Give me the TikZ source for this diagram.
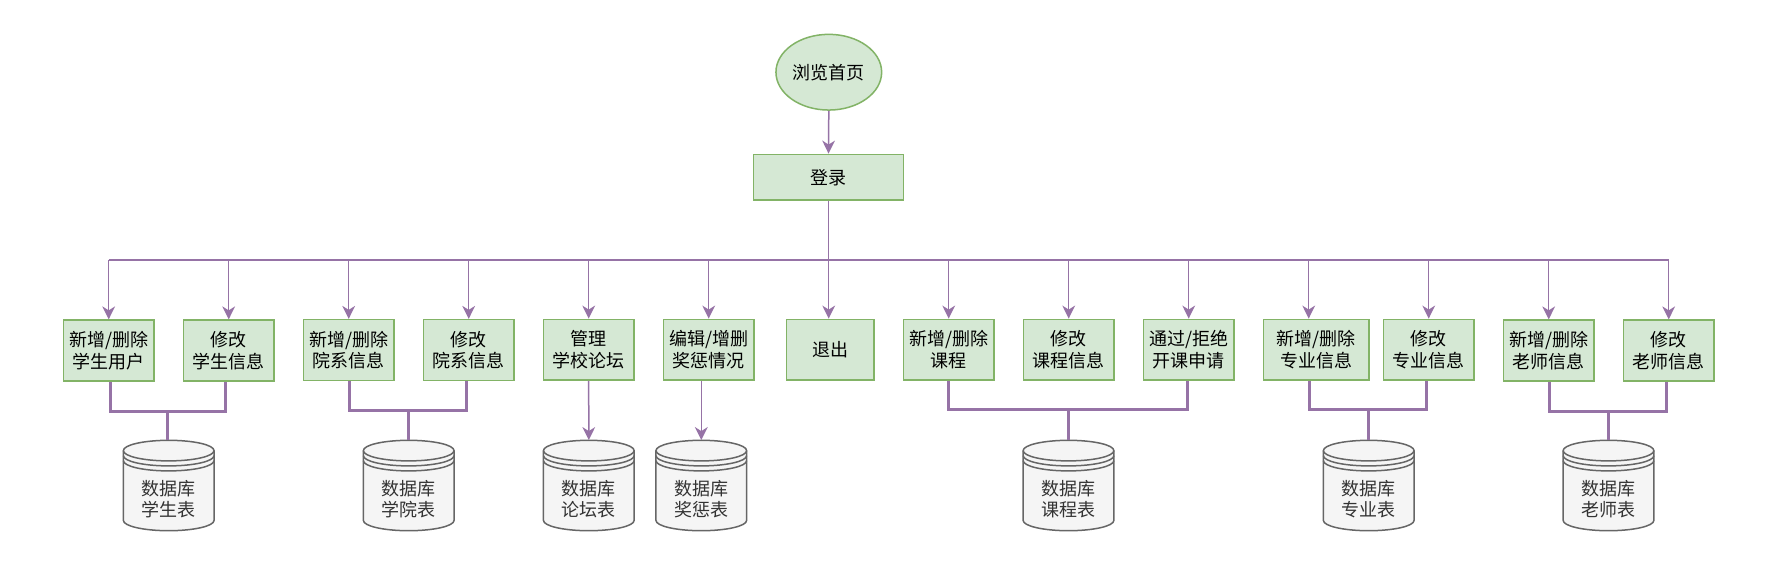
\documentclass[tikz,border=0pt]{standalone}
\usepackage{fontspec}
\setmainfont{Noto Sans CJK SC}
\usetikzlibrary{arrows.meta,shapes.geometric}
\definecolor{gfill}{HTML}{D5E8D4}
\definecolor{gline}{HTML}{82B366}
\definecolor{pline}{HTML}{9673A6}
\definecolor{dbfill}{HTML}{F5F5F5}
\definecolor{dbline}{HTML}{666666}
\definecolor{dbtext}{HTML}{333333}
\newcommand\DBcyl[3]{%
  \path[draw=dbline, fill=dbfill, line width=1.5pt]
    (#2-45.35,450.6) -- (#2-45.35,520.4)
    arc[start angle=180, end angle=0, x radius=45.35, y radius=10.3]
    -- (#2+45.35,450.6)
    arc[start angle=0, end angle=-180, x radius=45.35, y radius=10.3] -- cycle;
  \draw[dbline, line width=1.5pt] (#2-45.35,450.6) arc[start angle=180, end angle=0, x radius=45.35, y radius=10.3];
  \draw[dbline, line width=1.5pt] (#2-45.35,455.6) arc[start angle=180, end angle=0, x radius=45.35, y radius=10.3];
  \draw[dbline, line width=1.5pt] (#2-45.35,460.6) arc[start angle=180, end angle=0, x radius=45.35, y radius=10.3];
  \node[minimum width=90.7pt, minimum height=90.4pt, inner sep=0pt] (#1) at (#2,485.5) {};
  \node[text=dbtext, align=center] (#1t) at (#2,499) {数据库\\#3};
}
\begin{document}
\begin{tikzpicture}[x=1pt,y=-1pt,
  every node/.style={font=\fontsize{18}{21.4}\selectfont, inner sep=0pt},
  procbox/.style={draw=gline, fill=gfill, line width=1.5pt, minimum width=90.7pt, minimum height=60.7pt, align=center},
  thinl/.style={draw=pline, line width=1.5pt},
  arrowl/.style={draw=pline, line width=1.5pt, -{Stealth[length=13pt,width=12.7pt,inset=4pt]}},
  thickl/.style={draw=pline, line width=3pt}]
\useasboundingbox (0,0) rectangle (1782,571);
\fill[white] (0,0) rectangle (1782,571);

% top
\node[draw=gline, fill=gfill, line width=1.5pt, ellipse, minimum width=105.7pt, minimum height=75.7pt] (home) at (828.8,72.2) {浏览首页};
\node[procbox, minimum width=150pt, minimum height=45.7pt] (login) at (828.5,177.2) {登录};

% boxes
\node[procbox] (b0) at (108.7,350.5) {新增/删除\\学生用户};
\node[procbox] (b1) at (228.7,350.5) {修改\\学生信息};
\node[procbox] (b2) at (348.7,350) {新增/删除\\院系信息};
\node[procbox] (b3) at (468.7,350) {修改\\院系信息};
\node[procbox] (b4) at (588.7,349.7) {管理\\学校论坛};
\node[procbox] (b5) at (708.7,349.7) {编辑/增删\\奖惩情况};
\node[procbox, minimum width=87.7pt] (b6) at (830.2,349.7) {退出};
\node[procbox] (b7) at (948.7,349.7) {新增/删除\\课程};
\node[procbox] (b8) at (1068.7,349.7) {修改\\课程信息};
\node[procbox] (b9) at (1188.7,349.7) {通过/拒绝\\开课申请};
\node[procbox, minimum width=105.7pt] (b10) at (1316.2,349.7) {新增/删除\\专业信息};
\node[procbox] (b11) at (1428.7,349.7) {修改\\专业信息};
\node[procbox] (b12) at (1548.7,350.5) {新增/删除\\老师信息};
\node[procbox] (b13) at (1668.7,350.5) {修改\\老师信息};

% databases
\DBcyl{db1}{168.7}{学生表}
\DBcyl{db2}{408.7}{学院表}
\DBcyl{db3}{588.8}{论坛表}
\DBcyl{db4}{701.3}{奖惩表}
\DBcyl{db5}{1068.5}{课程表}
\DBcyl{db6}{1368.7}{专业表}
\DBcyl{db7}{1608.5}{老师表}

% top connectors
\draw[arrowl] (home.south) -- (login.north);
\foreach \i in {0,...,13} {
  \coordinate (t\i) at (108.7+120*\i,260);
}
\draw[thinl] (t0) -- (t13);
\draw[thinl] (login.south) -- (login.south |- t6);
\foreach \i in {0,...,13} {
  \draw[arrowl] (t\i) -- (t\i |- b\i.north);
}

% bottom connectors
\coordinate (j1) at (167.7,411.3);
\draw[thickl] ([xshift=1.3pt]b0.south) |- (j1) -| ([xshift=-3.4pt]b1.south);
\draw[thickl] (j1) -- (j1 |- db1.north);

\coordinate (j2) at (408,410.5);
\draw[thickl] ([xshift=1pt]b2.south) |- (j2) -| ([xshift=-2.7pt]b3.south);
\draw[thickl] (j2) -- (j2 |- db2.north);

\draw[arrowl] (b4.south) -- (db3.north);
\draw[arrowl] (db4.north |- b5.south) -- (db4.north);

\coordinate (j5) at (1068.3,409.3);
\draw[thickl] ([xshift=-0.4pt]b7.south) |- (j5) -| ([xshift=-1.4pt]b9.south);
\draw[thickl] (j5) -- (j5 |- db5.north);

\coordinate (j6) at (1368,409);
\draw[thickl] ([xshift=-6.9pt]b10.south) |- (j6) -| ([xshift=-2.4pt]b11.south);
\draw[thickl] (j6) -- (j6 |- db6.north);

\coordinate (j7) at (1608.3,411.3);
\draw[thickl] ([xshift=1pt]b12.south) |- (j7) -| ([xshift=-2.4pt]b13.south);
\draw[thickl] (j7) -- (j7 |- db7.north);
\end{tikzpicture}
\end{document}
